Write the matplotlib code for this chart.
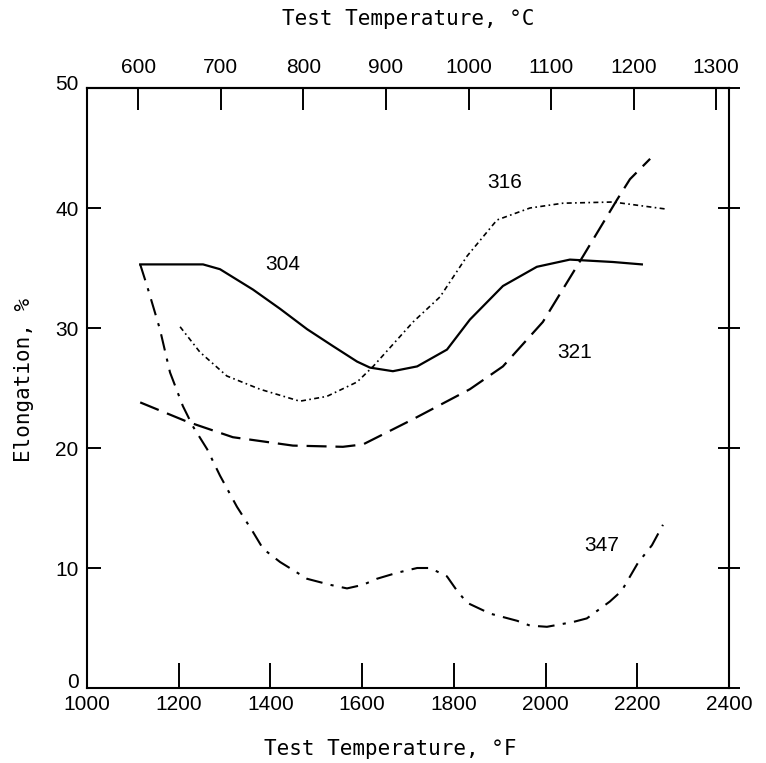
import matplotlib
matplotlib.use("Agg")
import matplotlib.pyplot as plt
import matplotlib.transforms as mtransforms

# ---- data (temperature in deg F, elongation in %) ----
t304 = [1116, 1253, 1290, 1362, 1421, 1480, 1536, 1589, 1617, 1667, 1720, 1785, 1835, 1907, 1981, 2053, 2147, 2210]
e304 = [35.3, 35.3, 34.9, 33.2, 31.6, 29.9, 28.5, 27.2, 26.7, 26.4, 26.8, 28.2, 30.7, 33.5, 35.1, 35.7, 35.5, 35.3]

t316 = [1203, 1246, 1305, 1377, 1464, 1523, 1589, 1624, 1711, 1770, 1829, 1894, 1966, 2038, 2147, 2265]
e316 = [30.1, 28.0, 26.0, 24.9, 23.9, 24.3, 25.5, 26.8, 30.5, 32.6, 36.0, 39.0, 40.0, 40.4, 40.5, 39.9]

t321 = [1116, 1218, 1318, 1449, 1558, 1602, 1711, 1835, 1907, 1994, 2082, 2156, 2184, 2228]
e321 = [23.8, 22.2, 20.9, 20.2, 20.1, 20.3, 22.4, 24.9, 26.8, 30.5, 36.0, 40.7, 42.4, 44.1]

t347 = [1116, 1131, 1159, 1181, 1209, 1231, 1262, 1290, 1327, 1362, 1384, 1421, 1480, 1530, 1567,
        1602, 1632, 1676, 1720, 1748, 1785, 1807, 1829, 1879, 1938, 1966, 2003, 2060, 2090, 2140,
        2166, 2201, 2232, 2256]
e347 = [35.3, 33.5, 29.9, 26.3, 23.5, 21.8, 19.9, 17.7, 15.1, 13.0, 11.6, 10.5, 9.1, 8.6, 8.3,
        8.6, 9.1, 9.6, 10.0, 10.0, 9.3, 8.1, 7.1, 6.2, 5.6, 5.2, 5.1, 5.5, 5.8, 7.2,
        8.1, 10.4, 11.9, 13.6]

labels = ["304", "316", "321", "347"]
label_pos = [(1427, 35.3), (1911, 42.1), (2064, 28.0), (2123, 11.9)]

xticks_f = [1000, 1200, 1400, 1600, 1800, 2000, 2200, 2400]
xticks_c = [600, 700, 800, 900, 1000, 1100, 1200, 1300]
yticks = [0, 10, 20, 30, 40, 50]

num_font = ["Liberation Sans", "DejaVu Sans"]
title_font = ["DejaVu Sans Mono"]

fig = plt.figure(figsize=(7.66, 7.63), dpi=100)
fig.patch.set_facecolor("white")
ax = fig.add_axes([87/766, 1-688/763, (729-87)/766, (688-88)/763])

ax.plot(t304, e304, color="black", lw=1.6, ls="-")
ax.plot(t316, e316, color="black", lw=1.2, dashes=(3, 2, 1, 2))
ax.plot(t321, e321, color="black", lw=1.6, dashes=(9, 4))
ax.plot(t347, e347, color="black", lw=1.5, dashes=(8, 4, 1.5, 4))

for lab, (x, y) in zip(labels, label_pos):
    ax.text(x, y, lab, ha="center", va="center", fontsize=15, family=num_font)

ax.set_xlim(1000, 2400)
ax.set_ylim(0, 50)

for s in ax.spines.values():
    s.set_linewidth(1.5)

ax.set_xticks(xticks_f)
ax.set_xticklabels([str(v) for v in xticks_f], family=num_font, fontsize=15)
ax.set_yticks(yticks)
ax.set_yticklabels([str(v) for v in yticks], family=num_font, fontsize=15)
ax.tick_params(axis="x", direction="in", length=18, width=1.4, pad=5)
ax.tick_params(axis="y", direction="in", length=10, width=1.4, pad=6)
ax.tick_params(axis="y", which="both", right=True, labelright=False)

# raise the 0 and 50 labels slightly as in the reference
ylabs = ax.get_yticklabels()
ylabs[0].set_transform(ylabs[0].get_transform() + mtransforms.ScaledTranslation(0, 8/100, fig.dpi_scale_trans))
ylabs[-1].set_transform(ylabs[-1].get_transform() + mtransforms.ScaledTranslation(0, 6/100, fig.dpi_scale_trans))

# right side ticks crossing the spine
for t in ax.yaxis.get_major_ticks():
    t.tick2line.set_marker("_")
    t.tick2line.set_markersize(16)
    t.tick2line.set_markeredgewidth(1.4)

ax.set_xlabel("Test Temperature, \u00b0F", fontsize=15, family=title_font, labelpad=26)
ax.xaxis.set_label_coords(0.473, -0.085)
ax.set_ylabel("Elongation, %", fontsize=15, family=title_font, labelpad=14)
ax.yaxis.set_label_coords(-0.082, 0.513)

sec = ax.secondary_xaxis("top", functions=(lambda f: (f - 32) * 5 / 9, lambda c: c * 9 / 5 + 32))
sec.set_xticks(xticks_c)
sec.set_xticklabels([str(v) for v in xticks_c], family=num_font, fontsize=15)
sec.tick_params(direction="in", length=16, width=1.4, pad=8)
sec.spines["top"].set_linewidth(1.5)
sec.set_xlabel("Test Temperature, \u00b0C", fontsize=15, family=title_font, labelpad=24)

fig.savefig("out.png", dpi=100, facecolor="white")
